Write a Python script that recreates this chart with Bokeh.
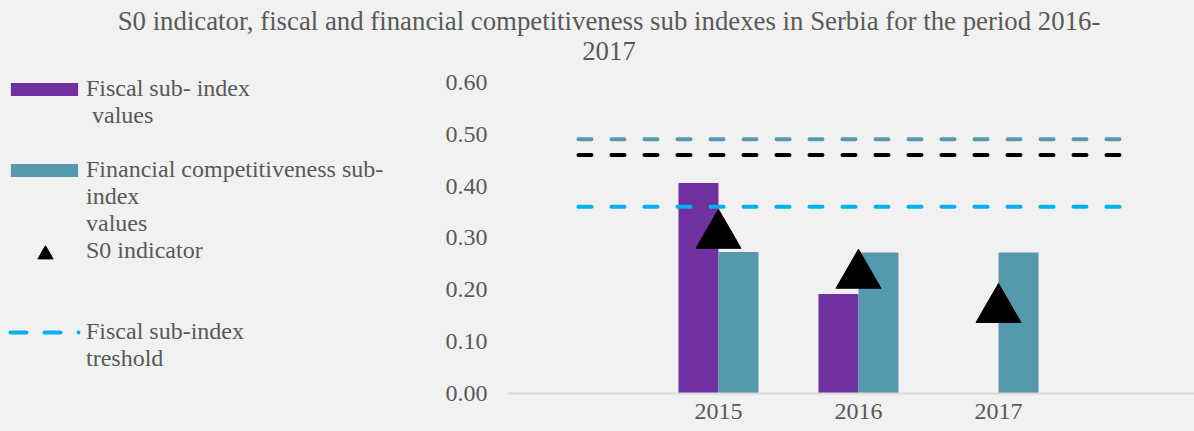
from bokeh.plotting import figure
from bokeh.layouts import column, row
from bokeh.models import (Range1d, FixedTicker, NumeralTickFormatter, Legend,
                          LegendItem, Label, ColumnDataSource)
from bokeh.transform import dodge
from bokeh.embed import file_html
from bokeh.resources import INLINE

# ---------------- data ----------------
title_lines = ["S0 indicator, fiscal and financial competitiveness sub indexes in Serbia for the period 2016-",
               "2017"]
categories = ["", "2015", "2016", "2017", ""]
years = ["2015", "2016", "2017"]
fiscal_sub_index = [0.406, 0.192, float("nan")]
financial_sub_index = [0.273, 0.272, 0.272]
s0_indicator = [0.305, 0.228, 0.162]
financial_threshold = [0.49, 0.49, 0.49, 0.49, 0.49]
s0_threshold = [0.46, 0.46, 0.46, 0.46, 0.46]
fiscal_threshold = [0.36, 0.36, 0.36, 0.36, 0.36]
y_ticks = [0.0, 0.1, 0.2, 0.3, 0.4, 0.5, 0.6]

# legend text, one entry per text row (first row of each entry carries the glyph)
legend_rows = [
    ("Fiscal sub- index", "fiscal"),
    ("\u00a0values", None),
    ("", None),
    ("Financial competitiveness sub-", "financial"),
    ("index", None),
    ("values", None),
    ("S0 indicator", "s0"),
    ("", None),
    ("", None),
    ("Fiscal sub-index", "fiscal_thr"),
    ("treshold", None),
]

# ---------------- style ----------------
FONT = "Liberation Serif"
TXT = "#595959"
BG = "#f1f1f1"
PURPLE = "#7030a0"
TEAL = "#5499ae"
CYAN = "#00b0f0"
DASH = "13 20"

fiscal_style = dict(fill_color=PURPLE, line_color=None)
fin_style = dict(fill_color=TEAL, line_color=None)
s0_style = dict(marker="triangle", fill_color="black", line_color="black")

TITLE_H = 66
LEFT_W = 420
W, H = 1194, 431


def style_fig(f):
    f.background_fill_color = None
    f.border_fill_color = BG
    f.outline_line_color = None
    f.grid.visible = False


year_x = [categories.index(y) for y in years]
cat_x = list(range(len(categories)))

bars = ColumnDataSource(dict(x=year_x, fiscal=fiscal_sub_index,
                             financial=financial_sub_index, s0=s0_indicator))
lines = ColumnDataSource(dict(x=cat_x, fin=financial_threshold,
                              s0t=s0_threshold, fis=fiscal_threshold))

# ---------------- main chart ----------------
p = figure(width=W - LEFT_W, height=H - TITLE_H, output_backend="svg",
           toolbar_location=None, title_location=None,
           x_range=Range1d(-0.507, 4.400), y_range=Range1d(0, 0.6304),
           min_border_left=507 - LEFT_W, min_border_right=0,
           min_border_top=0, min_border_bottom=38)
style_fig(p)

bw = 40 / 140
p.vbar(x=dodge("x", -bw / 2), top="fiscal", width=bw, source=bars, **fiscal_style)
p.vbar(x=dodge("x", bw / 2), top="financial", width=bw, source=bars, **fin_style)
p.line("x", "fin", source=lines, line_color=TEAL, line_width=4, line_dash=DASH,
       line_cap="round")
p.line("x", "s0t", source=lines, line_color="black", line_width=4, line_dash=DASH,
       line_cap="round")
p.line("x", "fis", source=lines, line_color=CYAN, line_width=4, line_dash=DASH,
       line_cap="round")
p.scatter("x", "s0", source=bars, size=45, **s0_style)

yax = p.yaxis[0]
yax.ticker = FixedTicker(ticks=y_ticks)
yax.formatter = NumeralTickFormatter(format="0.00")
yax.axis_line_color = None
yax.major_tick_line_color = None
yax.minor_tick_line_color = None
yax.major_tick_out = 0
yax.minor_tick_out = 0
yax.major_label_standoff = 20
yax.major_label_text_font = FONT
yax.major_label_text_font_size = "24px"
yax.major_label_text_color = TXT

xax = p.xaxis[0]
xax.ticker = FixedTicker(ticks=cat_x)
xax.major_label_overrides = {i: c for i, c in enumerate(categories)}
xax.axis_line_color = "#d9d9d9"
xax.axis_line_width = 2
xax.major_tick_line_color = None
xax.minor_tick_line_color = None
xax.major_tick_out = 0
xax.minor_tick_out = 0
xax.major_label_standoff = 10
xax.major_label_text_font = FONT
xax.major_label_text_font_size = "24px"
xax.major_label_text_color = TXT

# ---------------- legend panel ----------------
lp = figure(width=LEFT_W, height=H - TITLE_H, output_backend="svg",
            toolbar_location=None, title_location=None,
            x_axis_location=None, y_axis_location=None,
            min_border_left=0, min_border_right=0, min_border_top=0,
            min_border_bottom=0, x_range=Range1d(0, 1), y_range=Range1d(0, 1))
style_fig(lp)

# legend-only proxies (no visible data point)
nan_src = ColumnDataSource(dict(x=[float("nan")], y=[float("nan")]))
proxies = {
    "fiscal": lp.vbar(x="x", top="y", width=0.1, source=nan_src, **fiscal_style),
    "financial": lp.vbar(x="x", top="y", width=0.1, source=nan_src, **fin_style),
    "s0": lp.scatter("x", "y", source=nan_src, size=10, **s0_style),
    "fiscal_thr": lp.line("x", "y", source=nan_src, line_color=CYAN, line_width=4,
                          line_cap="round", line_dash="16 18 16 18 0 100",
                          line_dash_offset=160),
}

common = dict(padding=0, margin=0, border_line_color=None, ncols=1,
              background_fill_alpha=0, label_text_font=FONT,
              label_text_font_size="24px", label_text_color=TXT)

items = [LegendItem(label=t, renderers=[proxies[k]] if k else [])
         for t, k in legend_rows]
lp.add_layout(Legend(items=items, location=(2, 21), glyph_width=84,
                     glyph_height=16, label_standoff=0, label_height=27,
                     label_width=0, spacing=-1, **common))
# the larger triangle marker of the S0 indicator entry
lp.add_layout(Legend(items=[LegendItem(label="", renderers=[proxies["s0"]])],
                     location=(25.5, 120.3), glyph_width=38, glyph_height=38,
                     label_standoff=0, label_width=0, spacing=0, **common))

# ---------------- title ----------------
tp = figure(width=W, height=TITLE_H, output_backend="svg",
            toolbar_location=None, title_location=None,
            x_axis_location=None, y_axis_location=None,
            min_border_left=0, min_border_right=0, min_border_top=0,
            min_border_bottom=0, x_range=Range1d(0, 1), y_range=Range1d(0, 1))
style_fig(tp)
for text, y in zip(title_lines, [45.8, 16.0]):
    tp.add_layout(Label(x=608.5, y=y, x_units="screen", y_units="screen", text=text,
                        text_align="center", text_baseline="alphabetic",
                        text_font=FONT, text_font_size="26.8px", text_color=TXT))

layout = column(tp, row(lp, p, spacing=0, styles={"background-color": BG}),
                spacing=0, styles={"background-color": BG})
open("out.html", "w").write(file_html(layout, INLINE))
